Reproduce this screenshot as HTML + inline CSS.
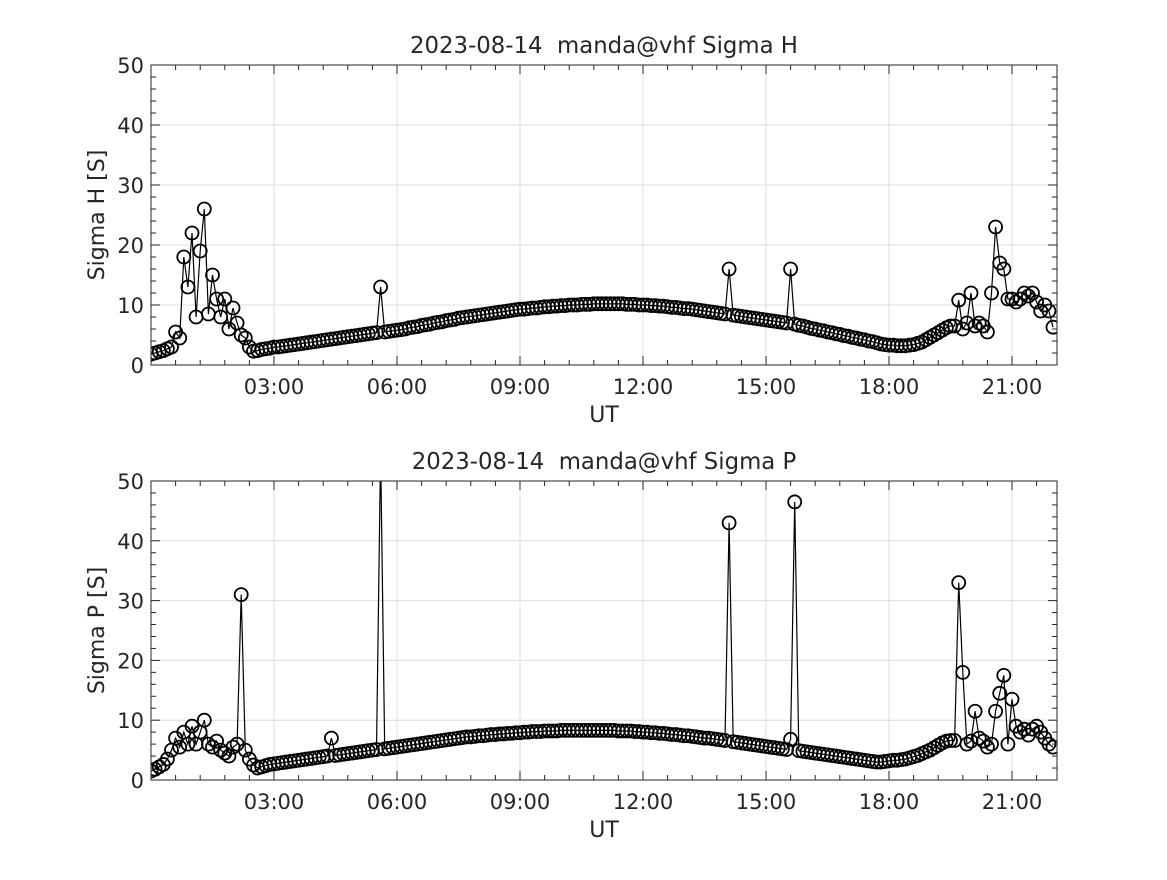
<!DOCTYPE html>
<html><head><meta charset="utf-8"><style>
body{margin:0;background:#fff}
svg text{font-family:"DejaVu Sans","Liberation Sans",sans-serif;fill:#262626;white-space:pre}
</style></head><body>
<svg id="fig" width="1167" height="875" xmlns="http://www.w3.org/2000/svg"></svg>
<script>
const stepHours = 0.1;
const xTicks = [3,6,9,12,15,18,21];
const xTickLabels = ["03:00","06:00","09:00","12:00","15:00","18:00","21:00"];
const yTicks = [0,10,20,30,40,50];
const sigmaH = [1.8,2.0,2.2,2.4,2.7,3.0,5.5,4.5,18,13,
22,8,19,26,8.5,15,11,8,11,6,
9.5,7,5,4.5,3,2.3,2.4,2.6,2.7,2.8,
3.0,3.0,3.1,3.2,3.3,3.4,3.5,3.6,3.7,3.8,
3.9,4.0,4.1,4.2,4.3,4.4,4.5,4.6,4.7,4.8,
4.9,5.0,5.1,5.2,5.3,5.4,13,5.5,5.6,5.7,
5.8,5.9,6.0,6.2,6.3,6.4,6.6,6.7,6.8,7.0,
7.1,7.2,7.4,7.5,7.6,7.8,7.9,8.0,8.1,8.2,
8.3,8.4,8.5,8.6,8.7,8.8,8.9,9.0,9.1,9.2,
9.3,9.3,9.4,9.5,9.5,9.6,9.7,9.7,9.8,9.8,
9.9,9.9,10,10,10,10.1,10.1,10.1,10.2,10.2,
10.2,10.2,10.2,10.2,10.2,10.2,10.1,10.1,10.1,10,
10,10,9.9,9.9,9.8,9.8,9.7,9.6,9.6,9.5,
9.4,9.4,9.3,9.2,9.1,9.0,8.9,8.8,8.7,8.6,
8.5,16,8.3,8.2,8.1,8.0,7.9,7.8,7.7,7.6,
7.5,7.4,7.3,7.2,7.1,7.0,16,6.8,6.6,6.5,
6.3,6.1,6.0,5.8,5.7,5.5,5.4,5.2,5.1,4.9,
4.8,4.6,4.5,4.3,4.2,4.0,3.9,3.7,3.5,3.4,
3.3,3.3,3.2,3.2,3.2,3.3,3.4,3.6,3.8,4.2,
4.6,5.0,5.4,5.8,6.2,6.5,6.5,10.8,6,7,
12,6.5,7,6.5,5.5,12,23,17,16,11,
11,10.5,11,12,11.5,12,10.5,9,10,9,
6.3];
const sigmaP = [1.5,1.8,2.2,2.6,3.5,5,7,5.5,8,6,
9,6,8,10,6,5.5,6.5,5,4.5,4,
5.5,6,31,5,3.5,2.5,2,2.2,2.4,2.6,
2.7,2.8,2.9,3.0,3.1,3.2,3.3,3.4,3.5,3.6,
3.7,3.8,3.9,4.0,7,4.1,4.2,4.3,4.4,4.5,
4.6,4.7,4.8,4.9,5.0,5.1,55,5.2,5.3,5.4,
5.5,5.6,5.7,5.8,5.9,6.0,6.1,6.2,6.3,6.4,
6.5,6.6,6.7,6.8,6.9,7.0,7.1,7.2,7.2,7.3,
7.4,7.4,7.5,7.6,7.6,7.7,7.7,7.8,7.8,7.9,
7.9,8.0,8.0,8.1,8.1,8.1,8.2,8.2,8.2,8.2,
8.3,8.3,8.3,8.3,8.3,8.3,8.3,8.3,8.3,8.3,
8.3,8.3,8.3,8.3,8.2,8.2,8.2,8.2,8.1,8.1,
8.0,8.0,7.9,7.9,7.8,7.8,7.7,7.6,7.6,7.5,
7.4,7.4,7.3,7.2,7.1,7.0,7.0,6.9,6.8,6.7,
6.6,43,6.4,6.3,6.2,6.1,6.0,5.9,5.8,5.7,
5.6,5.5,5.4,5.3,5.2,5.1,6.8,46.5,4.9,4.8,
4.7,4.6,4.5,4.4,4.3,4.2,4.1,4.0,3.9,3.8,
3.7,3.6,3.5,3.4,3.3,3.2,3.1,3.0,3.0,3.1,
3.2,3.3,3.3,3.4,3.5,3.7,3.9,4.1,4.4,4.7,
5.0,5.4,5.8,6.2,6.5,6.6,6.6,33,18,6,
6.5,11.5,7,6.5,5.5,6,11.5,14.5,17.5,6,
13.5,9,8,8.5,7.5,8.5,9,8,7,6,
5.5];

const NS="http://www.w3.org/2000/svg";
const svg=document.getElementById('fig');
function mk(tag,attrs,parent){const e=document.createElementNS(NS,tag);for(const k in attrs)e.setAttribute(k,attrs[k]);(parent||svg).appendChild(e);return e;}
const X0=151,X1=1057,XMAX=(1057-151)/41;
function xs(h){return X0+(h/XMAX)*(X1-X0);}

function panel(top,bottom,data,title,ylabel,key){
  const g=mk('g',{});
  
  
  const ys=v=>bottom-(v/50)*(bottom-top);
  const clipId='clip-'+key;
  const cp=mk('clipPath',{id:clipId},g);mk('rect',{x:X0,y:top,width:X1-X0,height:bottom-top},cp);
  xTicks.forEach(t=>{const l=mk('line',{x1:xs(t),x2:xs(t),y1:top,y2:bottom,stroke:'#dcdcdc','stroke-width':1},g);
    });
  yTicks.forEach(t=>{const l=mk('line',{x1:X0,x2:X1,y1:ys(t),y2:ys(t),stroke:'#dcdcdc','stroke-width':1},g);
    });
  const dg=mk('g',{'clip-path':'url(#'+clipId+')'},g);
  
  
  let d='';
  data.forEach((v,i)=>{d+=(i?'L':'M')+xs(i*stepHours).toFixed(1)+' '+ys(v).toFixed(1);});
  const ln=mk('path',{d:d,fill:'none',stroke:'#000','stroke-width':1.2},dg);
  
  
  data.forEach((v,i)=>{const c=mk('circle',{cx:xs(i*stepHours),cy:ys(v),r:6.5,fill:'none',stroke:'#000','stroke-width':1.8},dg);
    
    });
  const bx=mk('rect',{x:X0,y:top,width:X1-X0,height:bottom-top,fill:'none',stroke:'#262626','stroke-width':1},g);
  
  for(let m=0;m*0.6<=XMAX+0.001;m++){const h=m*0.6;const major=(m%5===0);const L=major?9:5;const x=xs(h);
    mk('line',{x1:x,x2:x,y1:bottom,y2:bottom-L,stroke:'#262626'},g);
    mk('line',{x1:x,x2:x,y1:top,y2:top+L,stroke:'#262626'},g);}
  xTicks.forEach((t,i)=>{const tx=mk('text',{x:xs(t),y:bottom+29,'font-size':21,'text-anchor':'middle'},g);tx.textContent=xTickLabels[i];
    });
  for(let v=0;v<=50;v+=2){const major=(v%10===0);const L=major?9:5;const y=ys(v);
    mk('line',{x1:X0,x2:X0+L,y1:y,y2:y,stroke:'#262626'},g);
    mk('line',{x1:X1,x2:X1-L,y1:y,y2:y,stroke:'#262626'},g);}
  yTicks.forEach(t=>{const tx=mk('text',{x:X0-7,y:ys(t)+8,'font-size':21,'text-anchor':'end'},g);tx.textContent=t;
    });
  const tt=mk('text',{x:604,y:top-12,'font-size':22.8,'text-anchor':'middle',fill:'#000'},g);tt.textContent=title;
  
  const xl=mk('text',{x:604,y:bottom+57,'font-size':22,'text-anchor':'middle'},g);xl.textContent='UT';
  
  const cy=(top+bottom)/2;
  const yl=mk('text',{x:104,y:cy,'font-size':22,'text-anchor':'middle',transform:'rotate(-90 104 '+cy+')'},g);yl.textContent=ylabel;
  
}
panel(65,365,sigmaH,'2023-08-14  manda@vhf Sigma H','Sigma H [S]','sigma-h');
panel(481,780,sigmaP,'2023-08-14  manda@vhf Sigma P','Sigma P [S]','sigma-p');
</script>
</body></html>
